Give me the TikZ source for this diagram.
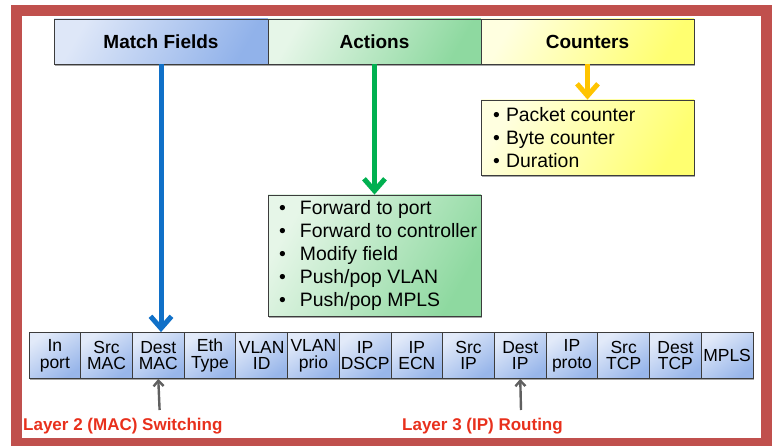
\documentclass[tikz,border=0pt]{standalone}
\usepackage{fontspec}
\setmainfont{Liberation Sans}
\usetikzlibrary{arrows.meta,shadows}

\definecolor{framered}{RGB}{192,80,77}
\definecolor{edgegrey}{RGB}{60,60,60}
\definecolor{blueA}{RGB}{222,231,248}
\definecolor{blueB}{RGB}{145,178,234}
\definecolor{greenA}{RGB}{230,246,232}
\definecolor{greenB}{RGB}{142,217,160}
\definecolor{yellowA}{RGB}{255,255,224}
\definecolor{yellowB}{RGB}{255,255,112}
\definecolor{cellA}{RGB}{226,234,249}
\definecolor{cellB}{RGB}{152,182,234}
\definecolor{arrowblue}{RGB}{16,112,200}
\definecolor{arrowgreen}{RGB}{0,176,80}
\definecolor{arrowgold}{RGB}{255,196,0}
\definecolor{arrowgrey}{RGB}{96,96,96}
\definecolor{labelred}{RGB}{232,48,28}

\tikzset{
  softshadow/.style={drop shadow={shadow xshift=1.2pt,shadow yshift=-1.6pt,opacity=0.35,fill=black}},
  box/.style={draw=edgegrey,line width=0.8pt,inner sep=0pt,softshadow},
  hdr/.style={box,minimum height=45pt,font=\fontsize{19}{22}\selectfont\bfseries},
  listbox/.style={box,inner xsep=4pt,inner ysep=0pt,
    align={flush left},font=\fontsize{19.4}{23}\selectfont},
  fieldcell/.style={box,minimum height=46pt,minimum width=51.71pt,align=center,
    font=\fontsize{17.5}{16.6}\selectfont},
  shadeblue/.style={top color=blueA,bottom color=blueB,shading angle=60},
  shadegreen/.style={top color=greenA,bottom color=greenB,shading angle=60},
  shadeyellow/.style={top color=yellowA,bottom color=yellowB,shading angle=60},
  shadecell/.style={top color=cellA,bottom color=cellB,shading angle=35},
  bigarrow/.style={line width=5pt,-{Straight Barb[length=12pt,width=21pt]}},
  smallarrow/.style={arrowgrey,line width=2.4pt,-{Straight Barb[length=5.5pt,width=10pt]}},
  lbl/.style={text=labelred,inner sep=0pt,anchor=west,
    font=\fontsize{17}{20}\selectfont\bfseries},
}

% bullet item: indent, bullet, gap before the text
\newcommand{\bul}[2]{\hspace*{#1}\makebox[#2][l]{•}}

\begin{document}
\begin{tikzpicture}[x=1pt,y=-1pt]
\useasboundingbox (0,0) rectangle (773,446);

% outer frame
\begin{scope}
  \clip (0,0) rectangle (773,446);
  \draw[framered,line width=10.8pt] (16.4,10.4) rectangle (766.5,443.6);
\end{scope}

% flow table header
\node[hdr,shadeblue,minimum width=214pt] (match) at (161,41.5) {Match Fields};
\node[hdr,shadegreen,minimum width=213pt] (actions) at (374.5,41.5) {Actions};
\node[hdr,shadeyellow,minimum width=213pt] (counters) at (587.5,41.5) {Counters};

% action and counter lists
\node[listbox,shadegreen,text width=205pt,minimum height=121pt] (alist) at (374.5,255.5)
  {\bul{7pt}{21pt}Forward to port\\
   \bul{7pt}{21pt}Forward to controller\\
   \bul{7pt}{21pt}Modify field\\
   \bul{7pt}{21pt}Push/pop VLAN\\
   \bul{7pt}{21pt}Push/pop MPLS};
\node[listbox,shadeyellow,text width=205pt,minimum height=75pt] (clist) at (587.5,137.5)
  {\bul{8pt}{13pt}Packet counter\\
   \bul{8pt}{13pt}Byte counter\\
   \bul{8pt}{13pt}Duration};

% header fields
\foreach \txt [count=\i] in {{In\\port},{Src\\MAC},{Dest\\MAC},{Eth\\Type},
    {VLAN\\ID},{VLAN\\prio},{IP\\DSCP},{IP\\ECN},{Src\\IP},{Dest\\IP},
    {IP\\proto},{Src\\TCP},{Dest\\TCP},{MPLS}}
  \node[fieldcell,shadecell] (f\i) at ({29+51.71*(\i-0.5)},355.5) {\txt};

% connectors from the header
\draw[bigarrow,arrowblue] (match.south) -- (match.south |- f3.north);
\draw[bigarrow,arrowgreen] (actions.south) -- (alist.north);
\draw[bigarrow,arrowgold] (counters.south) -- (clist.north);

% switching and routing labels
\node[lbl] (l2) at (23,426) {Layer 2 (MAC) Switching};
\node[lbl] (l3) at (402,426) {Layer 3 (IP) Routing};
\coordinate (l2tail) at (159.6,410);
\coordinate (l3tail) at (521,410);
\draw[smallarrow] (l2tail) -- (f3.south);
\draw[smallarrow] (l3tail) -- (f10.south);
\end{tikzpicture}
\end{document}
